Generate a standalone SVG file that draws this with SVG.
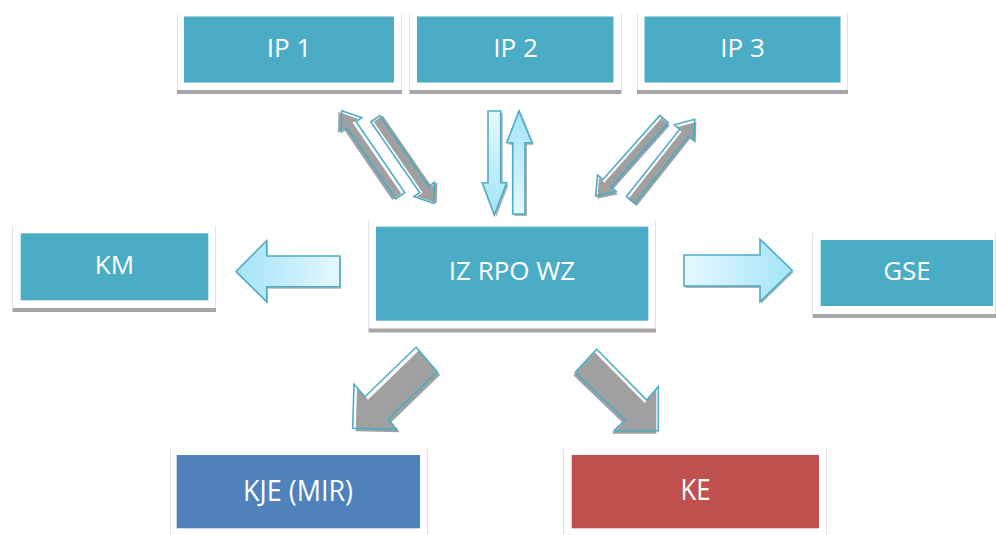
<svg xmlns="http://www.w3.org/2000/svg" width="996" height="535" viewBox="0 0 996 535">
  <defs>
    <linearGradient id="gH" x1="0" y1="0" x2="1" y2="0">
      <stop offset="0" stop-color="#e6f8fd"/>
      <stop offset="1" stop-color="#a3e4f9"/>
    </linearGradient>
    <linearGradient id="gHL" x1="1" y1="0" x2="0" y2="0">
      <stop offset="0" stop-color="#e6f8fd"/>
      <stop offset="1" stop-color="#a3e4f9"/>
    </linearGradient>
    <linearGradient id="gDown" x1="0" y1="0" x2="0" y2="1">
      <stop offset="0" stop-color="#e6f8fd"/>
      <stop offset="1" stop-color="#a3e4f9"/>
    </linearGradient>
    <linearGradient id="gUp" x1="0" y1="1" x2="0" y2="0">
      <stop offset="0" stop-color="#e6f8fd"/>
      <stop offset="1" stop-color="#a3e4f9"/>
    </linearGradient>
    <path id="thin" d="M0,-5.5 H86 V-12.5 L103,0 L86,12.5 V5.5 H0 Z"/>
    <style>
      .panel { fill: #ffffff; }
      .edge { stroke: #e3e3e3; stroke-width: 1; fill: none; }
      .bar { fill: #a6a6a6; }
      .teal { fill: #4bacc6; }
      .blue { fill: #4f81bd; }
      .red { fill: #c0504d; }
      .lbl { font-family: "Open Sans", "Liberation Sans", sans-serif; font-size: 26px; fill: #ffffff; text-anchor: middle; }
      .lbl2 { font-family: "Open Sans", "Liberation Sans", sans-serif; font-size: 30px; fill: #ffffff; text-anchor: middle; }
      .shadow { fill: #a0a0a0; }
      .shadowL { fill: #9e9e9e; opacity: 0.8; }
      .outline { fill: none; stroke: #4bacc6; stroke-width: 1.6; stroke-linejoin: miter; }
      .light { stroke: #4bacc6; stroke-width: 1.6; stroke-linejoin: miter; }
    </style>
  </defs>

  <!-- Nodes -->
  <g id="ip1">
    <rect class="panel" x="177" y="13" width="225" height="78"/>
    <path class="edge" d="M177.5,13 V91 M401.5,13 V91"/>
    <rect class="bar" x="177" y="90" width="225" height="4"/>
    <rect class="teal" x="184" y="16.5" width="210" height="66"/>
    <text class="lbl" x="289" y="57">IP 1</text>
  </g>
  <g id="ip2">
    <rect class="panel" x="409.5" y="13" width="212" height="78"/>
    <path class="edge" d="M409.5,13 V91 M621.5,13 V91"/>
    <rect class="bar" x="409.5" y="90" width="212" height="4"/>
    <rect class="teal" x="417" y="16.5" width="196.5" height="66"/>
    <text class="lbl" x="515.5" y="57">IP 2</text>
  </g>
  <g id="ip3">
    <rect class="panel" x="637" y="13" width="211" height="78"/>
    <path class="edge" d="M637.5,13 V91 M847.5,13 V91"/>
    <rect class="bar" x="637" y="90" width="211" height="4"/>
    <rect class="teal" x="644.5" y="16.5" width="196" height="66"/>
    <text class="lbl" x="742.5" y="57">IP 3</text>
  </g>
  <g id="iz">
    <rect class="panel" x="368.5" y="220" width="287.5" height="109"/>
    <path class="edge" d="M368.5,220 V329 M655.5,220 V329"/>
    <rect class="bar" x="368.5" y="328.5" width="287.5" height="4"/>
    <rect class="teal" x="376" y="226.7" width="272.3" height="94"/>
    <text class="lbl" x="512" y="280">IZ RPO WZ</text>
  </g>
  <g id="km">
    <rect class="panel" x="12.5" y="226" width="203.5" height="82"/>
    <path class="edge" d="M12.5,226 V308 M215.5,226 V308"/>
    <rect class="bar" x="12.5" y="308" width="203.5" height="4"/>
    <rect class="teal" x="20.7" y="233.3" width="187.6" height="67"/>
    <text class="lbl" x="114.5" y="274">KM</text>
  </g>
  <g id="gse">
    <rect class="panel" x="812.5" y="233" width="190" height="81"/>
    <path class="edge" d="M812.5,233 V314 M995.5,233 V314"/>
    <rect class="bar" x="812.5" y="314" width="190" height="4"/>
    <rect class="teal" x="820.7" y="240" width="172.3" height="66"/>
    <text class="lbl" x="907" y="280">GSE</text>
  </g>
  <g id="kje">
    <rect class="panel" x="170" y="449" width="257.5" height="90"/>
    <path class="edge" d="M170.5,449 V535 M427.5,449 V535"/>
    <rect class="blue" x="176.7" y="455" width="243.3" height="73.3"/>
    <text class="lbl2" x="298" y="501" textLength="110" lengthAdjust="spacingAndGlyphs">KJE (MIR)</text>
  </g>
  <g id="ke">
    <rect class="panel" x="563.5" y="449" width="263.5" height="90"/>
    <path class="edge" d="M563.5,449 V535 M826.5,449 V535"/>
    <rect class="red" x="571.7" y="455" width="247.3" height="73.3"/>
    <text class="lbl2" x="695.5" y="500" textLength="30" lengthAdjust="spacingAndGlyphs">KE</text>
  </g>

  <!-- Connectors -->
  <g id="connectors">
    <!-- IP1 pair -->
    <g transform="translate(400.3,195.7) rotate(-124.5)">
      <use href="#thin" class="shadow" transform="translate(1,-3.5)"/>
      <use href="#thin" class="outline"/>
    </g>
    <g transform="translate(375.3,118.7) rotate(55.4)">
      <use href="#thin" class="shadow" transform="translate(1.5,-2.5)"/>
      <use href="#thin" class="outline"/>
    </g>
    <!-- IP3 pair -->
    <g transform="translate(664,119) rotate(131.6)">
      <use href="#thin" class="shadow" transform="translate(1,-3)"/>
      <use href="#thin" class="outline"/>
    </g>
    <g transform="translate(630.7,200) rotate(-51.6)">
      <use href="#thin" class="shadow" transform="translate(-1,3)"/>
      <use href="#thin" class="outline"/>
    </g>
    <!-- IP2 vertical pair -->
    <polygon class="shadowL" transform="translate(2,2)" points="488,111 500.7,111 500.7,182.7 506.7,182.7 494.3,215 482.3,182.7 488,182.7"/>
    <polygon class="light" fill="url(#gDown)" points="488,111 500.7,111 500.7,182.7 506.7,182.7 494.3,215 482.3,182.7 488,182.7"/>
    <polygon class="shadowL" transform="translate(2,2)" points="512.7,214 525,214 525,142.7 532,142.7 519,111 506.7,142.7 512.7,142.7"/>
    <polygon class="light" fill="url(#gUp)" points="512.7,214 525,214 525,142.7 532,142.7 519,111 506.7,142.7 512.7,142.7"/>
    <!-- KM -->
    <polygon class="shadowL" transform="translate(1,2)" points="340,256 266.7,256 266.7,240.7 236,271.5 266.7,301.7 266.7,286.7 340,286.7"/>
    <polygon class="light" fill="url(#gHL)" points="340,256 266.7,256 266.7,240.7 236,271.5 266.7,301.7 266.7,286.7 340,286.7"/>
    <!-- GSE -->
    <polygon class="shadowL" transform="translate(1,2)" points="684,255 760,255 760,239.3 792.3,270.5 760,301.7 760,286 684,286"/>
    <polygon class="light" fill="url(#gH)" points="684,255 760,255 760,239.3 792.3,270.5 760,301.7 760,286 684,286"/>
    <!-- KJE -->
    <polygon class="shadow" transform="translate(3,3)" points="416,347.3 437.3,371.7 388.3,419.3 396.7,429.3 352.7,428.3 354,384.3 365,396.7"/>
    <polygon class="outline" points="416,347.3 437.3,371.7 388.3,419.3 396.7,429.3 352.7,428.3 354,384.3 365,396.7"/>
    <!-- KE -->
    <polygon class="shadow" transform="translate(-2,3)" points="596.7,349.3 575.3,372.3 625,420 614,430.7 658.3,430.7 658.3,386.7 646.7,400"/>
    <polygon class="outline" points="596.7,349.3 575.3,372.3 625,420 614,430.7 658.3,430.7 658.3,386.7 646.7,400"/>
  </g>
</svg>
